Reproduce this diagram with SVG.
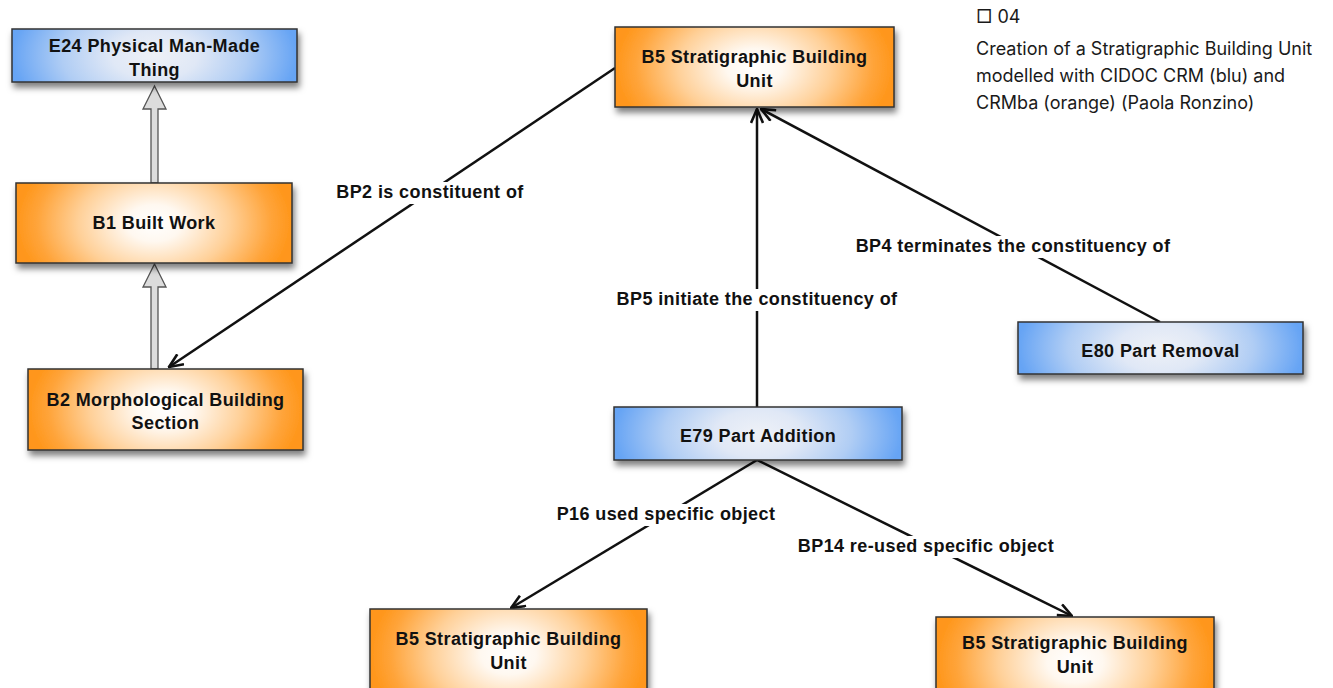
<svg xmlns="http://www.w3.org/2000/svg" width="1333" height="688" viewBox="0 0 1333 688">
<style>
.node text{font-family:"Liberation Sans",Arial,sans-serif;font-weight:bold;font-size:18px;letter-spacing:0.4px;fill:#111;text-anchor:middle}
.box{stroke:#333;stroke-width:1.5}
.org{fill:url(#gOrange)}
.blu{fill:url(#gBlue)}
.edge{stroke:#111;stroke-width:2.5;fill:none}
.lbl{font-family:"Liberation Sans",Arial,sans-serif;font-weight:bold;font-size:18px;letter-spacing:0.4px;fill:#111;text-anchor:middle}
.lblbg{fill:#fff}
.inh{fill:#dcdcdc;stroke:#555;stroke-width:1.3}
.cap{font-family:Inter,"Liberation Sans",sans-serif;font-size:18px;fill:#1a1a1a}
</style>
<defs>
<radialGradient id="gOrange" cx="0.5" cy="0.5" r="0.5" gradientTransform="translate(0.5,0.5) scale(1,2.3) translate(-0.5,-0.5)">
<stop offset="0" stop-color="#ffffff"/>
<stop offset="0.2" stop-color="#fff8f0"/>
<stop offset="0.55" stop-color="#ffd098"/>
<stop offset="0.85" stop-color="#ffa43a"/>
<stop offset="1" stop-color="#ff961a"/>
</radialGradient>
<radialGradient id="gBlue" cx="0.5" cy="0.5" r="0.5" gradientTransform="translate(0.5,0.5) scale(1,3) translate(-0.5,-0.5)">
<stop offset="0" stop-color="#eef1f7"/>
<stop offset="0.3" stop-color="#e0e8f6"/>
<stop offset="0.65" stop-color="#b0cdf4"/>
<stop offset="1" stop-color="#66a4f4"/>
</radialGradient>
<filter id="sh" x="-10%" y="-20%" width="120%" height="160%">
<feDropShadow dx="2" dy="5" stdDeviation="3" flood-color="#000" flood-opacity="0.5"/>
</filter>
<marker id="arr" viewBox="0 0 16 14" refX="15" refY="7" markerWidth="16" markerHeight="14" markerUnits="userSpaceOnUse" orient="auto">
<path d="M1,1 L15,7 L1,13" fill="none" stroke="#111" stroke-width="2.6"/>
</marker>
</defs>
<rect width="1333" height="688" fill="#fff"/>

<g id="connectors">
<path class="inh" d="M151,183 L151,109 L143,109 L154.5,86 L166,109 L158,109 L158,183 Z"/>
<path class="inh" d="M151,369 L151,287 L143,287 L154.5,264 L166,287 L158,287 L158,369 Z"/>
<line class="edge" x1="615" y1="68" x2="169" y2="367" marker-end="url(#arr)"/>
<line class="edge" x1="757" y1="407" x2="757" y2="109" marker-end="url(#arr)"/>
<line class="edge" x1="1160" y1="322" x2="761" y2="109" marker-end="url(#arr)"/>
<line class="edge" x1="757" y1="460" x2="511" y2="608" marker-end="url(#arr)"/>
<line class="edge" x1="757" y1="460" x2="1072" y2="616" marker-end="url(#arr)"/>
<rect class="lblbg" x="334" y="182" width="192" height="22"/>
<text class="lbl" x="430" y="198">BP2 is constituent of</text>
<rect class="lblbg" x="614" y="289" width="286" height="22"/>
<text class="lbl" x="757" y="305">BP5 initiate the constituency of</text>
<rect class="lblbg" x="853" y="236" width="322" height="22"/>
<text class="lbl" x="1013" y="252">BP4 terminates the constituency of</text>
<rect class="lblbg" x="554" y="504" width="224" height="22"/>
<text class="lbl" x="666" y="520">P16 used specific object</text>
<rect class="lblbg" x="795" y="536" width="263" height="22"/>
<text class="lbl" x="926" y="552">BP14 re-used specific object</text>
</g>

<g id="e24" class="node">
<rect class="box blu" x="12" y="29" width="285" height="53" filter="url(#sh)"/>
<text x="154.5" y="52">E24 Physical Man-Made</text>
<text x="154.5" y="76">Thing</text>
</g>
<g id="b1" class="node">
<rect class="box org" x="16" y="183" width="276" height="80" filter="url(#sh)"/>
<text x="154" y="229">B1 Built Work</text>
</g>
<g id="b2" class="node">
<rect class="box org" x="28" y="369" width="275" height="81" filter="url(#sh)"/>
<text x="165.5" y="406">B2 Morphological Building</text>
<text x="165.5" y="429">Section</text>
</g>
<g id="b5top" class="node">
<rect class="box org" x="615" y="27" width="279" height="80" filter="url(#sh)"/>
<text x="754.5" y="63">B5 Stratigraphic Building</text>
<text x="754.5" y="87">Unit</text>
</g>
<g id="e80" class="node">
<rect class="box blu" x="1018" y="322" width="285" height="52" filter="url(#sh)"/>
<text x="1160.5" y="357">E80 Part Removal</text>
</g>
<g id="e79" class="node">
<rect class="box blu" x="614" y="407" width="288" height="53" filter="url(#sh)"/>
<text x="758" y="442">E79 Part Addition</text>
</g>
<g id="b5left" class="node">
<rect class="box org" x="370" y="609" width="277" height="90" filter="url(#sh)"/>
<text x="508.5" y="645">B5 Stratigraphic Building</text>
<text x="508.5" y="669">Unit</text>
</g>
<g id="b5right" class="node">
<rect class="box org" x="936" y="617" width="278" height="90" filter="url(#sh)"/>
<text x="1075" y="649">B5 Stratigraphic Building</text>
<text x="1075" y="673">Unit</text>
</g>

<g id="caption">
<text class="cap" x="976" y="23">□ 04</text>
<text class="cap" x="976" y="55">Creation of a Stratigraphic Building Unit</text>
<text class="cap" x="976" y="82">modelled with CIDOC CRM (blu) and</text>
<text class="cap" x="976" y="109">CRMba (orange) (Paola Ronzino)</text>
</g>
</svg>
